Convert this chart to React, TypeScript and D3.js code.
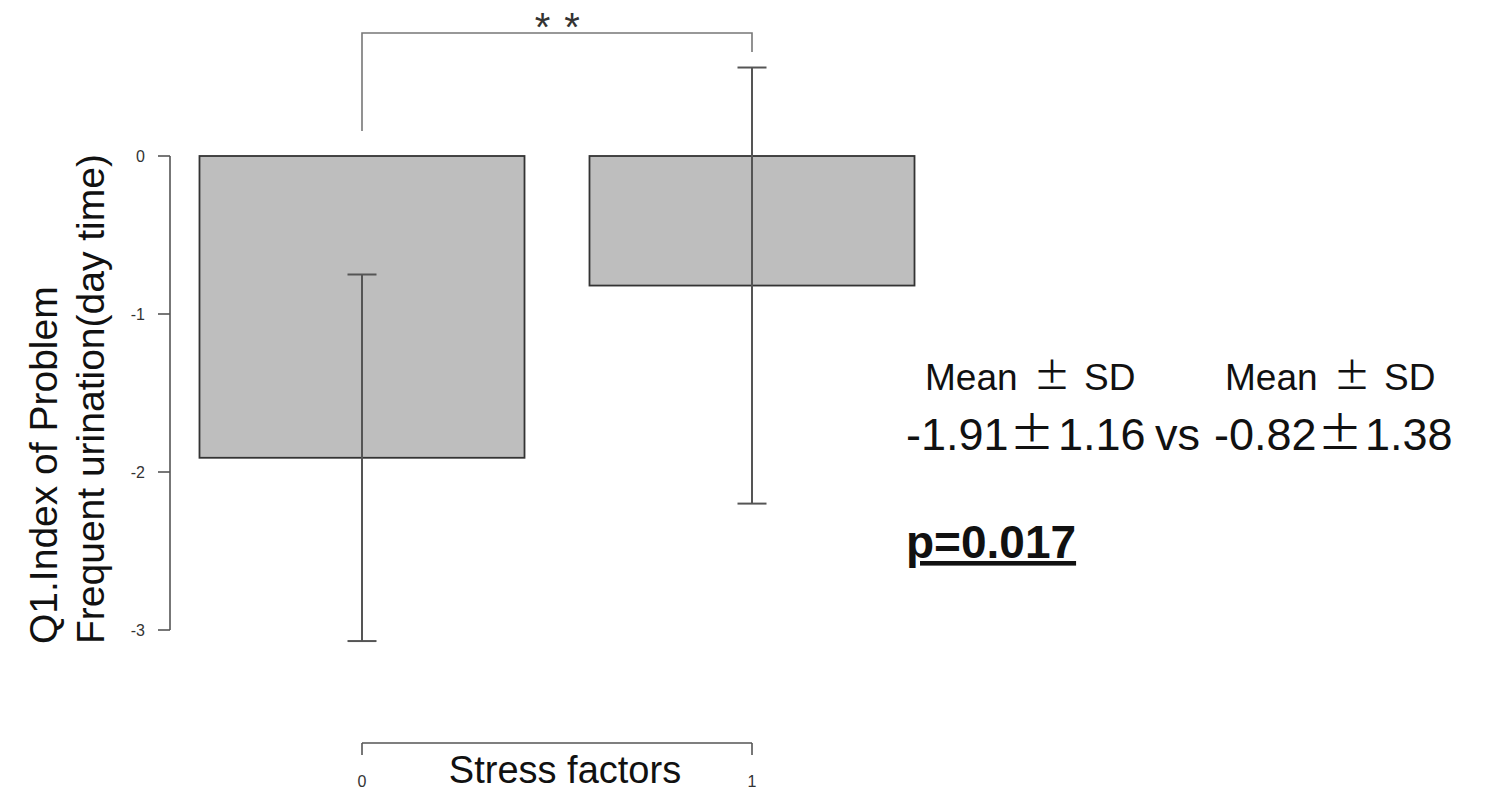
import React from "react";
import * as d3 from "d3";

// Group codes on the x axis and their means / standard deviations
const groups = [0, 1];
const means = [-1.91, -0.82];
const sds = [1.16, 1.38];
const yTicks = [0, -1, -2, -3];
const pValue = "p=0.017";
const sigMark = "* *";

const W = 1491;
const H = 793;
const FONT = "'Liberation Sans', Arial, Helvetica, sans-serif";
const PM_FONT = "'Noto Sans CJK JP', 'Liberation Sans', sans-serif";

export default function App() {
  const x = d3.scaleLinear().domain([0, 1]).range([362, 752]);
  const y = d3.scaleLinear().domain([0, -3]).range([156, 630]);
  const barHalf = (x(1) - x(0)) * 0.4167;
  const cap = 14.5;

  const axisColor = "#555";

  return (
    <svg
      width={W}
      height={H}
      style={{ position: "absolute", left: 0, top: 0, background: "#fff" }}
      fontFamily={FONT}
    >
      {/* bars */}
      {groups.map((g, i) => (
        <rect
          key={"bar" + g}
          x={x(g) - barHalf}
          y={y(0)}
          width={barHalf * 2}
          height={y(means[i]) - y(0)}
          fill="#bebebe"
          stroke="#333"
          strokeWidth={1.8}
        />
      ))}

      {/* error bars: mean ± SD */}
      {groups.map((g, i) => {
        const lo = y(means[i] - sds[i]);
        const hi = y(means[i] + sds[i]);
        return (
          <g key={"err" + g} stroke="#555" strokeWidth={2}>
            <line x1={x(g)} x2={x(g)} y1={hi} y2={lo} />
            <line x1={x(g) - cap} x2={x(g) + cap} y1={hi} y2={hi} />
            <line x1={x(g) - cap} x2={x(g) + cap} y1={lo} y2={lo} />
          </g>
        );
      })}

      {/* y axis */}
      <g stroke={axisColor} strokeWidth={1.6} fill="none">
        <line x1={170} x2={170} y1={y(0)} y2={y(-3)} />
        {yTicks.map((t) => (
          <line key={"yt" + t} x1={158} x2={170} y1={y(t)} y2={y(t)} />
        ))}
      </g>
      {yTicks.map((t) => (
        <text
          key={"yl" + t}
          x={145}
          y={y(t)}
          dy="0.35em"
          textAnchor="end"
          fontSize={16}
          fill="#333"
        >
          {t}
        </text>
      ))}

      {/* y axis title */}
      <g transform="translate(0,644) rotate(-90)">
        <text x={0} y={57} fontSize={39} fill="#111">
          Q1.Index  of Problem
        </text>
        <text x={0} y={104} fontSize={39} fill="#111">
          Frequent urination(day time)
        </text>
      </g>

      {/* x axis */}
      <g stroke={axisColor} strokeWidth={1.6} fill="none">
        <line x1={x(0)} x2={x(1)} y1={743} y2={743} />
        {groups.map((g) => (
          <line key={"xt" + g} x1={x(g)} x2={x(g)} y1={743} y2={755} />
        ))}
      </g>
      {groups.map((g) => (
        <text
          key={"xl" + g}
          x={x(g)}
          y={787}
          textAnchor="middle"
          fontSize={16}
          fill="#333"
        >
          {g}
        </text>
      ))}
      <text x={565} y={783} textAnchor="middle" fontSize={38} fill="#111">
        Stress factors
      </text>

      {/* significance bracket */}
      <path
        d={`M${x(0)},${131} V33 H${x(1)} V52`}
        fill="none"
        stroke="#777"
        strokeWidth={1.6}
      />
      <text x={558} y={41} textAnchor="middle" fontSize={40} fill="#333" letterSpacing={1.5}>
        {sigMark}
      </text>

      {/* summary statistics */}
      <g fill="#111">
        <text x={925} y={390} fontSize={37}>Mean</text>
        <text x={1052} y={390} fontSize={37} textAnchor="middle" fontFamily={PM_FONT}>±</text>
        <text x={1084} y={390} fontSize={37}>SD</text>
        <text x={1225} y={390} fontSize={37}>Mean</text>
        <text x={1352} y={390} fontSize={37} textAnchor="middle" fontFamily={PM_FONT}>±</text>
        <text x={1384} y={390} fontSize={37}>SD</text>

        <text x={906} y={450} fontSize={45}>{means[0].toFixed(2)}</text>
        <text x={1032} y={450} fontSize={45} textAnchor="middle" fontFamily={PM_FONT}>±</text>
        <text x={1058} y={450} fontSize={45}>{sds[0].toFixed(2)}</text>
        <text x={1155} y={450} fontSize={45}>vs</text>
        <text x={1214} y={450} fontSize={45}>{means[1].toFixed(2)}</text>
        <text x={1340} y={450} fontSize={45} textAnchor="middle" fontFamily={PM_FONT}>±</text>
        <text x={1365} y={450} fontSize={45}>{sds[1].toFixed(2)}</text>

        <text x={906} y={558} fontSize={46} fontWeight="bold" textDecoration="underline">
          {pValue}
        </text>
      </g>
    </svg>
  );
}
